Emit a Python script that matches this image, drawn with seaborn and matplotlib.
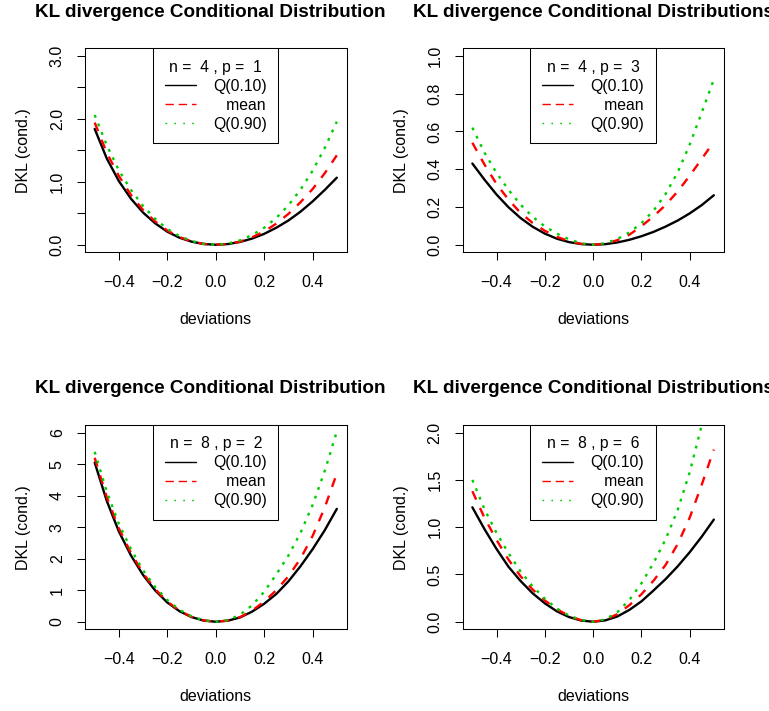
import matplotlib
matplotlib.use("Agg")
import matplotlib.pyplot as plt
from matplotlib.lines import Line2D
from matplotlib.transforms import Bbox, TransformedBbox
import pandas as pd
import seaborn as sns

# ---------------- data ----------------
deviations = [-0.50, -0.45, -0.40, -0.35, -0.30, -0.25, -0.20, -0.15, -0.10, -0.05, 0.00,
              0.05, 0.10, 0.15, 0.20, 0.25, 0.30, 0.35, 0.40, 0.45, 0.50]
series_names = ["Q(0.10)", "mean", "Q(0.90)"]
legend_labels = ["Q(0.10)", "   mean", "Q(0.90)"]
panel_n = [4, 4, 8, 8]
panel_p = [1, 3, 2, 6]

# panel 1: n=4, p=1
q10_1 = [1.84, 1.37, 1.01, 0.73, 0.51, 0.34, 0.207, 0.112, 0.049, 0.012, 0.0,
         0.011, 0.044, 0.098, 0.173, 0.27, 0.385, 0.525, 0.688, 0.87, 1.065]
mean_1 = [1.94, 1.46, 1.09, 0.79, 0.55, 0.37, 0.225, 0.122, 0.053, 0.013, 0.0,
          0.012, 0.05, 0.118, 0.21, 0.335, 0.49, 0.675, 0.885, 1.135, 1.42]
q90_1 = [2.06, 1.58, 1.18, 0.87, 0.615, 0.41, 0.25, 0.138, 0.06, 0.015, 0.0,
         0.018, 0.07, 0.155, 0.27, 0.425, 0.625, 0.875, 1.175, 1.535, 1.955]
# panel 2: n=4, p=3
q10_2 = [0.43, 0.345, 0.266, 0.198, 0.141, 0.095, 0.059, 0.032, 0.014, 0.0035, 0.0,
         0.003, 0.012, 0.026, 0.045, 0.068, 0.096, 0.128, 0.166, 0.21, 0.262]
mean_2 = [0.54, 0.425, 0.322, 0.238, 0.168, 0.115, 0.074, 0.042, 0.019, 0.005, 0.0,
          0.006, 0.024, 0.053, 0.098, 0.15, 0.21, 0.282, 0.365, 0.455, 0.545]
q90_2 = [0.62, 0.488, 0.38, 0.29, 0.212, 0.148, 0.097, 0.059, 0.029, 0.008, 0.0,
         0.008, 0.03, 0.065, 0.114, 0.18, 0.268, 0.383, 0.53, 0.70, 0.875]
# panel 3: n=8, p=2
q10_3 = [5.05, 3.83, 2.86, 2.10, 1.48, 0.99, 0.61, 0.335, 0.148, 0.037, 0.0,
         0.034, 0.135, 0.32, 0.57, 0.88, 1.28, 1.76, 2.30, 2.90, 3.58]
mean_3 = [5.20, 3.95, 2.96, 2.18, 1.54, 1.03, 0.64, 0.35, 0.155, 0.04, 0.0,
          0.036, 0.145, 0.35, 0.64, 1.00, 1.44, 2.00, 2.72, 3.62, 4.70]
q90_3 = [5.39, 4.12, 3.10, 2.30, 1.63, 1.10, 0.69, 0.38, 0.17, 0.045, 0.0,
         0.05, 0.22, 0.52, 0.95, 1.50, 2.10, 2.82, 3.70, 4.78, 6.03]
# panel 4: n=8, p=6
q10_4 = [1.21, 0.98, 0.77, 0.58, 0.43, 0.30, 0.195, 0.11, 0.05, 0.013, 0.0,
         0.014, 0.055, 0.125, 0.215, 0.33, 0.45, 0.585, 0.735, 0.90, 1.08]
mean_4 = [1.38, 1.10, 0.865, 0.655, 0.48, 0.34, 0.225, 0.132, 0.062, 0.016, 0.0,
          0.02, 0.08, 0.175, 0.29, 0.433, 0.60, 0.82, 1.10, 1.45, 1.82]
q90_4 = [1.50, 1.19, 0.94, 0.723, 0.53, 0.373, 0.243, 0.14, 0.065, 0.018, 0.0,
         0.025, 0.10, 0.23, 0.405, 0.62, 0.87, 1.18, 1.58, 2.08, 2.70]

panel_series = [(q10_1, mean_1, q90_1), (q10_2, mean_2, q90_2),
                (q10_3, mean_3, q90_3), (q10_4, mean_4, q90_4)]

xtick_vals = [-0.4, -0.2, 0.0, 0.2, 0.4]
xtick_labels = ["\u22120.4", "\u22120.2", "0.0", "0.2", "0.4"]
ytick_vals = [[0.0, 0.5, 1.0, 1.5, 2.0, 2.5, 3.0],
              [0.0, 0.2, 0.4, 0.6, 0.8, 1.0],
              [0, 1, 2, 3, 4, 5, 6],
              [0.0, 0.5, 1.0, 1.5, 2.0]]
ytick_labels = [["0.0", "", "1.0", "", "2.0", "", "3.0"],
                ["0.0", "0.2", "0.4", "0.6", "0.8", "1.0"],
                ["0", "1", "2", "3", "4", "5", "6"],
                ["0.0", "0.5", "1.0", "1.5", "2.0"]]
y_limits = [(-0.12, 3.12), (-0.04, 1.04), (-0.24, 6.24), (-0.08, 2.08)]
x_limits = (-0.54, 0.54)

title_text = "KL divergence Conditional Distributions"
xlabel_text = "deviations"
ylabel_text = "DKL (cond.)"

# ---------------- style ----------------
sns.set_theme(style="ticks")
plt.rcParams["font.family"] = ["Liberation Sans", "DejaVu Sans"]
plt.rcParams["axes.edgecolor"] = "black"
plt.rcParams["axes.linewidth"] = 0.75
plt.rcParams["xtick.color"] = "black"
plt.rcParams["ytick.color"] = "black"
plt.rcParams["axes.labelcolor"] = "black"
plt.rcParams["text.color"] = "black"

palette = {"Q(0.10)": "black", "mean": "#FF0000", "Q(0.90)": "#00CD00"}
dash_map = {"Q(0.10)": "", "mean": (3.9, 3.9), "Q(0.90)": (1.2, 2.7)}

W, H = 769, 711
fig = plt.figure(figsize=(W / 100, H / 100), dpi=100, facecolor="white")

# axes boxes in pixels (left, top, right, bottom)
boxes = [(85, 48.3, 346.5, 252.3), (462.7, 48.3, 723.5, 252.3),
         (85, 425, 346.5, 629.3), (462.7, 425, 723.5, 629.3)]
clip_regions = [(0, 0.45, 0.5, 1.0), (0.5, 0.45, 1.0, 1.0),
                (0, 0.0, 0.5, 0.55), (0.5, 0.0, 1.0, 0.55)]

for i in range(4):
    l, t, r, b = boxes[i]
    ax = fig.add_axes([l / W, 1 - b / H, (r - l) / W, (b - t) / H])
    ax.set_facecolor("white")
    q10, mn, q90 = panel_series[i]
    df = pd.DataFrame({
        "deviation": deviations * 3,
        "dkl": list(q10) + list(mn) + list(q90),
        "series": [s for s in series_names for _ in deviations],
    })
    sns.lineplot(data=df, x="deviation", y="dkl", hue="series", style="series",
                 palette=palette, dashes=dash_map, linewidth=1.7,
                 legend=False, estimator=None, sort=False, ax=ax)
    ax.set_xlim(*x_limits)
    ax.set_ylim(*y_limits[i])
    ax.set_xticks(xtick_vals)
    ax.set_xticklabels(xtick_labels)
    ax.set_yticks(ytick_vals[i])
    ax.set_yticklabels(ytick_labels[i])
    ax.tick_params(axis="both", direction="out", length=6, width=0.75,
                   labelsize=11.5, colors="black")
    ax.tick_params(axis="x", pad=10.5)
    ax.tick_params(axis="y", pad=8.5, labelrotation=90)
    for lab in ax.get_yticklabels():
        lab.set_verticalalignment("center")
    for sp in ax.spines.values():
        sp.set_visible(True)
        sp.set_color("black")
        sp.set_linewidth(0.75)
    ax.set_xlabel(xlabel_text, fontsize=11.5, labelpad=15.5)
    ax.set_ylabel(ylabel_text, fontsize=11.5, labelpad=13.5)

    ttl = ax.set_title(title_text, fontsize=13.6, fontweight="bold", pad=22.7)
    cx0, cy0, cx1, cy1 = clip_regions[i]
    ttl.set_clip_box(TransformedBbox(Bbox.from_extents(cx0, cy0, cx1, cy1),
                                     fig.transFigure))
    ttl.set_clip_on(True)

    handles = [Line2D([], [], color=palette["Q(0.10)"], lw=1.0),
               Line2D([], [], color=palette["mean"], lw=1.0, dashes=(6, 3.5)),
               Line2D([], [], color=palette["Q(0.90)"], lw=1.0, dashes=(1.2, 5.2))]
    leg = ax.legend(handles, legend_labels,
                    title=f"n =  {panel_n[i]} , p =  {panel_p[i]}",
                    loc="upper center", bbox_to_anchor=(0.5, 1.0),
                    borderaxespad=0, frameon=True, fancybox=False,
                    edgecolor="black", facecolor="white", framealpha=1,
                    fontsize=11.3, title_fontsize=11.3, handlelength=2.0,
                    handletextpad=1.1, borderpad=0.73, labelspacing=0.25)
    leg.get_frame().set_linewidth(0.75)

fig.savefig("out.png", dpi=100, facecolor="white")
